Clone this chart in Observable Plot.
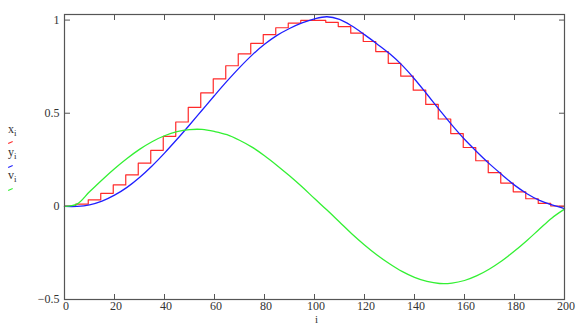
<!DOCTYPE html>
<html>
<head>
<meta charset="utf-8">
<script src="https://cdn.jsdelivr.net/npm/d3@7"></script>
<script src="https://cdn.jsdelivr.net/npm/@observablehq/plot@0.6"></script>
<style>
  body { margin: 0; background: #fff; }
  #wrap { position: relative; width: 584px; height: 325px; font-family: "Liberation Serif", "Times New Roman", serif; }
  .leg { position: absolute; left: 8px; font-size: 12px; line-height: 12px; color: #333; white-space: nowrap; }
  .leg sub { font-size: 9px; vertical-align: -3px; line-height: 0; }
  .dash { position: absolute; left: 8px; width: 5px; height: 1.4px; transform: rotate(-25deg); }
</style>
</head>
<body>
<div id="wrap"></div>
<script>
// ---- data ----
const xTicks = [0, 20, 40, 60, 80, 100, 120, 140, 160, 180, 200];
const yTicks = [-0.5, 0, 0.5, 1];

// sample indices for the smooth traces
const sampleI = [0, 5, 10, 15, 20, 25, 30, 35, 40, 45, 50, 55, 60, 65, 70, 75, 80, 85, 90, 95, 100,
                 105, 110, 115, 120, 125, 130, 135, 140, 145, 150, 155, 160, 165, 170, 175, 180, 185, 190, 195, 200];

// x_i : held value for each block of 5 samples (block k covers i = 5k .. 5k+4)
const xBlocks = [0.001, 0.012, 0.035, 0.070, 0.115, 0.169, 0.232, 0.301, 0.376, 0.453,
                 0.531, 0.609, 0.684, 0.755, 0.819, 0.875, 0.922, 0.959, 0.984, 0.998,
                 0.999, 0.988, 0.965, 0.930, 0.885, 0.831, 0.768, 0.699, 0.624, 0.547,
                 0.469, 0.391, 0.316, 0.245, 0.181, 0.125, 0.078, 0.041, 0.016, 0.002, 0.002];

// y_i (blue)
const yVals = [0, 0.000, 0.008, 0.028, 0.060, 0.102, 0.155, 0.217, 0.286, 0.360,
               0.437, 0.516, 0.595, 0.672, 0.745, 0.812, 0.870, 0.918, 0.955, 0.985,
               1.007, 1.018, 1.004, 0.968, 0.922, 0.872, 0.820, 0.758, 0.684, 0.602,
               0.518, 0.436, 0.360, 0.292, 0.228, 0.170, 0.114, 0.068, 0.032, 0.008, -0.012];

// v_i (green)
const vVals = [0, 0.012, 0.078, 0.142, 0.202, 0.257, 0.306, 0.347, 0.379, 0.401,
               0.412, 0.413, 0.402, 0.385, 0.355, 0.318, 0.272, 0.220, 0.164, 0.105,
               0.042, -0.020, -0.084, -0.148, -0.207, -0.261, -0.308, -0.349, -0.381, -0.403,
               -0.414, -0.412, -0.398, -0.372, -0.336, -0.292, -0.240, -0.183, -0.122, -0.062, -0.015];

const seriesNames = ["x", "y", "v"];
const seriesColors = ["#ff2a2a", "#1f1fff", "#33f033"];

// ---- build tables ----
const redRows = d3.range(0, 201).map(i => ({i, val: xBlocks[Math.floor(i / 5)]}));
const blueRows = sampleI.map((i, k) => ({i, val: yVals[k]}));
const greenRows = sampleI.map((i, k) => ({i, val: vVals[k]}));

const axisColor = "#555";
const textColor = "#333";
const fmt = d => String(d).replace("-", "\u2212");

const chart = Plot.plot({
  width: 584,
  height: 325,
  marginLeft: 64,
  marginRight: 20,
  marginTop: 14,
  marginBottom: 26,
  style: {fontFamily: "Liberation Serif, Times New Roman, serif", fontSize: "12px", background: "#fff", color: textColor},
  x: {domain: [0, 200]},
  y: {domain: [-0.5, 1.03]},
  marks: [
    // inward ticks
    Plot.axisX(xTicks, {anchor: "bottom", tickSize: -5, tickFormat: () => "", label: null, stroke: axisColor}),
    Plot.axisX(xTicks, {anchor: "top", tickSize: -5, tickFormat: () => "", label: null, stroke: axisColor}),
    Plot.axisY(yTicks, {anchor: "left", tickSize: -6, tickFormat: () => "", label: null, stroke: axisColor}),
    Plot.axisY(yTicks, {anchor: "right", tickSize: -6, tickFormat: () => "", label: null, stroke: axisColor}),
    // labels
    Plot.axisX(xTicks, {anchor: "bottom", tickSize: 0, tickPadding: 2, dx: 1.5, label: null, tickFormat: fmt, fill: textColor}),
    Plot.axisY(yTicks, {anchor: "left", tickSize: 0, tickPadding: 5, label: null, tickFormat: fmt, fill: textColor}),
    Plot.text(["i"], {frameAnchor: "bottom", dy: 23, dx: 2, fontSize: 11, fill: textColor}),
    // traces
    Plot.line(redRows, {x: "i", y: "val", stroke: seriesColors[0], strokeWidth: 1.2, curve: "step"}),
    Plot.line(blueRows, {x: "i", y: "val", stroke: seriesColors[1], strokeWidth: 1.3, curve: "catmull-rom"}),
    Plot.line(greenRows, {x: "i", y: "val", stroke: seriesColors[2], strokeWidth: 1.3, curve: "catmull-rom"}),
    Plot.frame({stroke: axisColor, strokeWidth: 1.2})
  ]
});

const wrap = document.getElementById("wrap");
wrap.appendChild(chart);

// legend (Mathcad style, at the left)
const legendTops = [123, 146, 169];
const dashTops = [142, 166, 189];
seriesNames.forEach((name, k) => {
  const t = document.createElement("div");
  t.className = "leg";
  t.style.top = legendTops[k] + "px";
  t.innerHTML = name + "<sub>i</sub>";
  wrap.appendChild(t);
  const d = document.createElement("div");
  d.className = "dash";
  d.style.top = dashTops[k] + "px";
  d.style.background = seriesColors[k];
  wrap.appendChild(d);
});
</script>
</body>
</html>
